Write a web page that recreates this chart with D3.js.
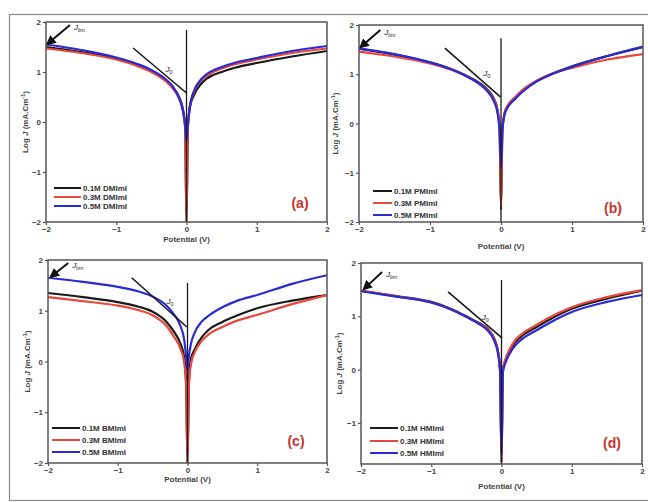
<!DOCTYPE html>
<html>
<head>
<meta charset="utf-8">
<script src="https://cdn.jsdelivr.net/npm/d3@7"></script>
<style>
  html, body { margin: 0; padding: 0; background: #fff; }
  svg { display: block; }
  text { font-family: "Liberation Sans", Arial, sans-serif; }
</style>
</head>
<body>
<svg id="fig" width="648" height="502"></svg>
<script>
// Potential (V) sample points shared by every polarisation curve
const potential = [-2, -1.5, -1, -0.7, -0.5, -0.3, -0.2, -0.1, -0.05, -0.02, 0,
                   0.02, 0.05, 0.1, 0.2, 0.3, 0.5, 0.7, 1, 1.5, 2];

// Log J values, panel (a) DMImI
const dmim01 = [1.50, 1.40, 1.27, 1.14, 1.02, 0.84, 0.70, 0.48, 0.25, -0.10, -2.00,
                -0.10, 0.30, 0.52, 0.75, 0.88, 1.00, 1.09, 1.18, 1.31, 1.42];
const dmim03 = [1.47, 1.38, 1.25, 1.12, 1.00, 0.82, 0.68, 0.45, 0.22, -0.10, -1.95,
                -0.10, 0.33, 0.58, 0.82, 0.94, 1.07, 1.16, 1.25, 1.38, 1.47];
const dmim05 = [1.55, 1.44, 1.29, 1.16, 1.04, 0.86, 0.72, 0.46, 0.22, -0.05, -0.40,
                -0.05, 0.33, 0.60, 0.84, 0.97, 1.10, 1.19, 1.28, 1.42, 1.52];

// Panel (b) PMImI
const pmim01 = [1.52, 1.40, 1.24, 1.10, 0.98, 0.82, 0.70, 0.50, 0.28, -0.10, -1.75,
                -0.10, 0.20, 0.36, 0.52, 0.66, 0.86, 1.00, 1.16, 1.37, 1.55];
const pmim03 = [1.46, 1.36, 1.22, 1.09, 0.97, 0.80, 0.68, 0.48, 0.26, -0.10, -1.70,
                -0.10, 0.22, 0.38, 0.54, 0.68, 0.87, 1.00, 1.13, 1.30, 1.41];
const pmim05 = [1.52, 1.41, 1.24, 1.10, 0.97, 0.80, 0.67, 0.45, 0.22, -0.15, -0.90,
                -0.15, 0.18, 0.34, 0.50, 0.64, 0.85, 0.99, 1.15, 1.37, 1.56];

// Panel (c) BMImI
const bmim01 = [1.35, 1.27, 1.17, 1.08, 0.98, 0.78, 0.60, 0.35, 0.10, -0.40, -2.00,
                -0.40, 0.05, 0.23, 0.47, 0.62, 0.78, 0.90, 1.05, 1.20, 1.31];
const bmim03 = [1.27, 1.19, 1.10, 1.01, 0.91, 0.70, 0.50, 0.25, 0.00, -0.50, -2.00,
                -0.50, -0.05, 0.17, 0.40, 0.53, 0.68, 0.80, 0.92, 1.13, 1.31];
const bmim05 = [1.65, 1.57, 1.47, 1.38, 1.28, 1.10, 0.94, 0.70, 0.45, 0.10, -0.20,
                0.10, 0.35, 0.56, 0.78, 0.90, 1.07, 1.19, 1.31, 1.53, 1.70];

// Panel (d) HMImI
const hmim01 = [1.48, 1.38, 1.27, 1.13, 1.00, 0.86, 0.77, 0.57, 0.35, 0.00, -1.75,
                0.00, 0.15, 0.31, 0.52, 0.64, 0.80, 0.95, 1.14, 1.33, 1.48];
const hmim03 = [1.48, 1.38, 1.26, 1.12, 0.99, 0.85, 0.76, 0.56, 0.34, 0.00, -1.70,
                0.00, 0.17, 0.34, 0.56, 0.68, 0.84, 0.99, 1.17, 1.36, 1.49];
const hmim05 = [1.47, 1.37, 1.26, 1.12, 0.99, 0.84, 0.74, 0.53, 0.30, -0.05, -1.60,
                -0.05, 0.10, 0.26, 0.46, 0.58, 0.74, 0.89, 1.08, 1.27, 1.40];

// Legend entries and panel letters
const legendA = ["0.1M DMImI", "0.3M DMImI", "0.5M DMImI"];
const legendB = ["0.1M PMImI", "0.3M PMImI", "0.5M PMImI"];
const legendC = ["0.1M BMImI", "0.3M BMImI", "0.5M BMImI"];
const legendD = ["0.1M HMImI", "0.3M HMImI", "0.5M HMImI"];
const panelLetters = ["(a)", "(b)", "(c)", "(d)"];

// Axis ticks
const xTicks = [-2, -1, 0, 1, 2];
const yTicks = [-2, -1, 0, 1, 2];
const yTicksD = [-1, 0, 1, 2];

// Tangent (J0) and limiting current (Jlim) construction lines, in data units
const tangentA = [[-0.76, 1.48], [0.0, 0.58]];
const tangentB = [[-0.79, 1.53], [-0.01, 0.54]];
const tangentC = [[-0.80, 1.65], [-0.01, 0.68]];
const tangentD = [[-0.76, 1.46], [0.01, 0.59]];
const limArrowA = [[-1.66, 1.94], [-1.98, 1.56]];
const limArrowB = [[-1.70, 1.90], [-1.98, 1.55]];
const limArrowC = [[-1.71, 1.94], [-1.96, 1.67]];
const limArrowD = [[-1.70, 1.83], [-1.96, 1.51]];
const verticalTop = [1.84, 1.73, 1.55, 1.68];

const colors = ["#1a1a1a", "#e8473c", "#2b2bd6"];

const panels = [
  { series: [dmim01, dmim03, dmim05], legend: legendA, yDomain: [-2, 2], yTicks: yTicks,
    tangent: tangentA, arrow: limArrowA, vtop: verticalTop[0],
    box: { x0: 46, x1: 327, y0: 22, y1: 222 }, ylabX: 28, xlabY: 242,
    leg: { x0: 54, x1: 81, ys: [188, 197, 206] }, letter: { x: 300, y: 208 },
    j0: [-0.30, 1.00] },
  { series: [pmim01, pmim03, pmim05], legend: legendB, yDomain: [-2, 2], yTicks: yTicks,
    tangent: tangentB, arrow: limArrowB, vtop: verticalTop[1],
    box: { x0: 359, x1: 643, y0: 25, y1: 222 }, ylabX: 338, xlabY: 249,
    leg: { x0: 373, x1: 392, ys: [191, 203, 215] }, letter: { x: 613, y: 213 },
    j0: [-0.25, 0.96] },
  { series: [bmim01, bmim03, bmim05], legend: legendC, yDomain: [-2, 2], yTicks: yTicks,
    tangent: tangentC, arrow: limArrowC, vtop: verticalTop[2],
    box: { x0: 48, x1: 327, y0: 260, y1: 463 }, ylabX: 30, xlabY: 482,
    leg: { x0: 52, x1: 80, ys: [428, 440, 452] }, letter: { x: 296, y: 446 },
    j0: [-0.30, 1.14] },
  { series: [hmim01, hmim03, hmim05], legend: legendD, yDomain: [-1.77, 2], yTicks: yTicksD,
    tangent: tangentD, arrow: limArrowD, vtop: verticalTop[3],
    box: { x0: 361, x1: 642, y0: 263, y1: 464 }, ylabX: 342, xlabY: 489,
    leg: { x0: 370, x1: 398, ys: [428, 441, 453] }, letter: { x: 612, y: 448 },
    j0: [-0.28, 0.94] }
];

const svg = d3.select("#fig");

// Outer frame around the whole figure
svg.append("rect")
  .attr("x", 9.5).attr("y", 14.5).attr("width", 650).attr("height", 486)
  .attr("fill", "none").attr("stroke", "#8a8a8a").attr("stroke-width", 1.2);

const defs = svg.append("defs");
defs.append("marker")
  .attr("id", "head").attr("viewBox", "0 0 10 10")
  .attr("refX", 8).attr("refY", 5)
  .attr("markerWidth", 5).attr("markerHeight", 5)
  .attr("orient", "auto")
  .append("path").attr("d", "M0,0 L10,5 L0,10 z").attr("fill", "#111");

panels.forEach((p, i) => {
  const b = p.box;
  const x = d3.scaleLinear().domain([-2, 2]).range([b.x0, b.x1]);
  const y = d3.scaleLinear().domain(p.yDomain).range([b.y1, b.y0]);
  const g = svg.append("g");

  // clip the curves to the plotting frame
  const clipId = "clip" + i;
  defs.append("clipPath").attr("id", clipId)
    .append("rect").attr("x", b.x0).attr("y", b.y0)
    .attr("width", b.x1 - b.x0).attr("height", b.y1 - b.y0);

  const line = d3.line()
    .x((d, k) => x(potential[k]))
    .y(d => y(d))
    .curve(d3.curveMonotoneX);

  const curves = g.append("g").attr("clip-path", `url(#${clipId})`);
  p.series.forEach((s, k) => {
    curves.append("path")
      .attr("d", line(s))
      .attr("fill", "none")
      .attr("stroke", colors[k])
      .attr("stroke-width", 2.2)
      .attr("stroke-linejoin", "round");
  });

  // construction lines
  curves.append("line")
    .attr("x1", x(0)).attr("x2", x(0))
    .attr("y1", y(p.vtop)).attr("y2", y(p.yDomain[0]))
    .attr("stroke", "#1a1a1a").attr("stroke-width", 1.3);
  g.append("line")
    .attr("x1", x(p.tangent[0][0])).attr("y1", y(p.tangent[0][1]))
    .attr("x2", x(p.tangent[1][0])).attr("y2", y(p.tangent[1][1]))
    .attr("stroke", "#1a1a1a").attr("stroke-width", 1.6);
  g.append("line")
    .attr("x1", x(p.arrow[0][0])).attr("y1", y(p.arrow[0][1]))
    .attr("x2", x(p.arrow[1][0])).attr("y2", y(p.arrow[1][1]))
    .attr("stroke", "#111").attr("stroke-width", 2)
    .attr("marker-end", "url(#head)");

  // J0 label
  const j0 = g.append("text")
    .attr("x", x(p.j0[0])).attr("y", y(p.j0[1]))
    .attr("font-size", 8).attr("fill", "#222");
  j0.append("tspan").attr("font-style", "italic").text("J");
  j0.append("tspan").attr("font-size", 5.5).attr("dy", 2).text("0");

  // Jlim label
  const jl = g.append("text")
    .attr("x", x(p.arrow[0][0]) + 4).attr("y", y(p.arrow[0][1]) + 5)
    .attr("font-size", 8).attr("fill", "#222");
  jl.append("tspan").attr("font-style", "italic").text("J");
  jl.append("tspan").attr("font-size", 5.5).attr("dy", 2).text("lim");

  // frame
  g.append("rect")
    .attr("x", b.x0).attr("y", b.y0)
    .attr("width", b.x1 - b.x0).attr("height", b.y1 - b.y0)
    .attr("fill", "none").attr("stroke", "#555").attr("stroke-width", 1.5);

  // axes
  const xa = g.append("g").attr("transform", `translate(0,${b.y1})`)
    .call(d3.axisBottom(x).tickValues(xTicks).tickSize(3).tickPadding(1)
      .tickFormat(d3.format("d")));
  const ya = g.append("g").attr("transform", `translate(${b.x0},0)`)
    .call(d3.axisLeft(y).tickValues(p.yTicks).tickSize(3).tickPadding(2)
      .tickFormat(d3.format("d")));
  [xa, ya].forEach(a => {
    a.select(".domain").remove();
    a.selectAll("line").attr("stroke", "#555").attr("stroke-width", 1.2);
    a.selectAll("text").attr("font-size", 8).attr("font-weight", "bold")
      .attr("fill", "#444").attr("font-family", "Liberation Sans, Arial, sans-serif");
  });

  // axis titles
  g.append("text")
    .attr("x", (b.x0 + b.x1) / 2).attr("y", p.xlabY)
    .attr("text-anchor", "middle").attr("font-size", 8).attr("font-weight", "bold")
    .attr("fill", "#444").text("Potential (V)");
  const yl = g.append("text")
    .attr("transform", `translate(${p.ylabX},${(b.y0 + b.y1) / 2}) rotate(-90)`)
    .attr("text-anchor", "middle").attr("font-size", 8).attr("font-weight", "bold")
    .attr("fill", "#444");
  yl.append("tspan").text("Log ");
  yl.append("tspan").attr("font-style", "italic").text("J");
  yl.append("tspan").text(" (mA.Cm");
  yl.append("tspan").attr("font-size", 5.5).attr("dy", -3).text("-1");
  yl.append("tspan").attr("dy", 3).text(")");

  // legend
  p.legend.forEach((name, k) => {
    const yy = p.leg.ys[k];
    g.append("line")
      .attr("x1", p.leg.x0).attr("x2", p.leg.x1).attr("y1", yy).attr("y2", yy)
      .attr("stroke", colors[k]).attr("stroke-width", 2);
    g.append("text")
      .attr("x", p.leg.x1 + 2).attr("y", yy + 3)
      .attr("font-size", 8).attr("font-weight", "bold").attr("fill", "#333")
      .text(name);
  });

  // panel letter
  g.append("text")
    .attr("x", p.letter.x).attr("y", p.letter.y)
    .attr("text-anchor", "middle").attr("font-size", 14).attr("font-weight", "bold")
    .attr("fill", "#c8332b").attr("font-family", "Liberation Sans, Arial, sans-serif")
    .text(panelLetters[i]);
});
</script>
</body>
</html>
